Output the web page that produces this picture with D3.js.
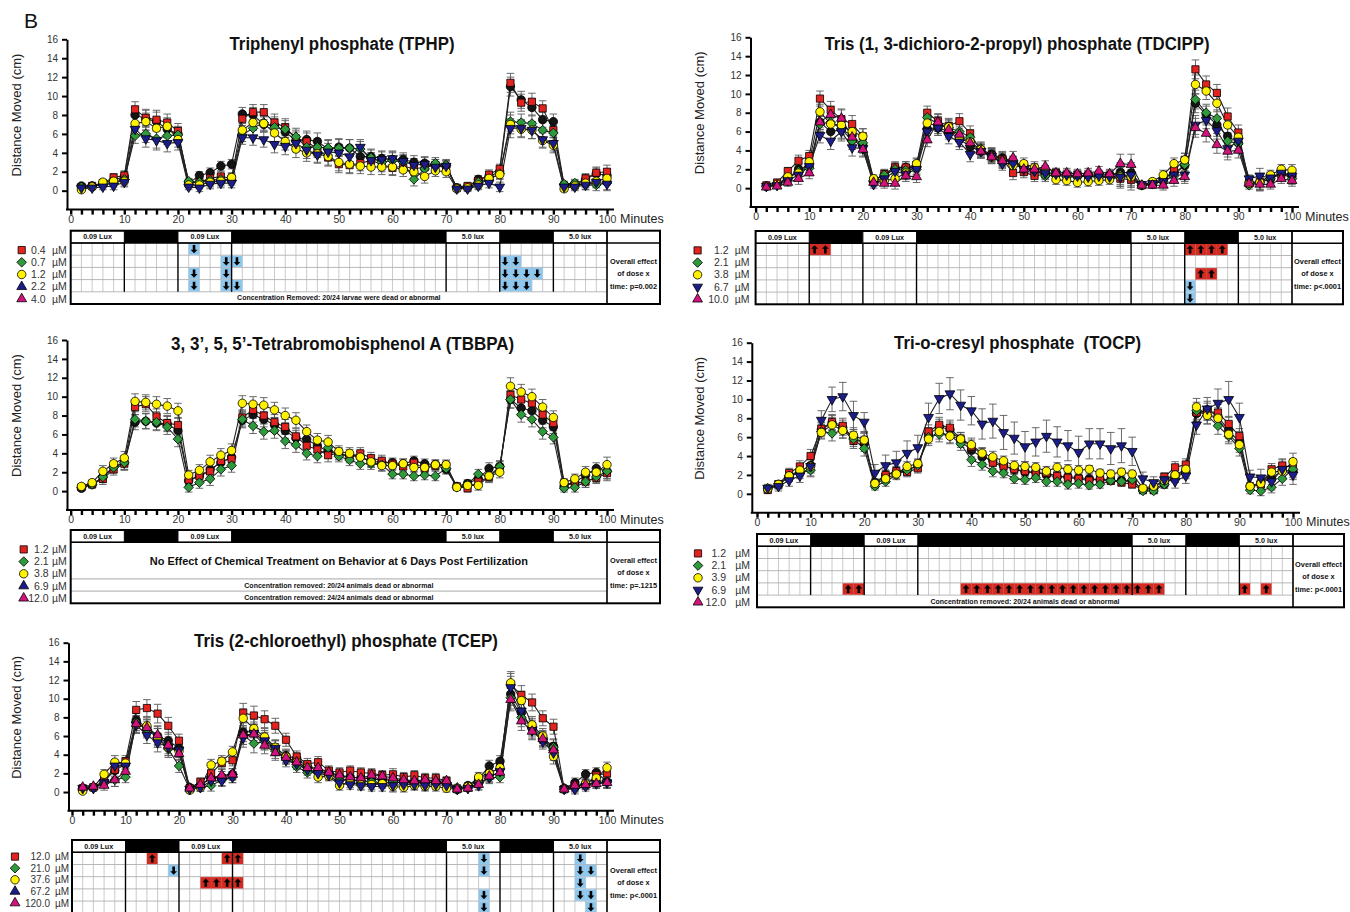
<!DOCTYPE html>
<html>
<head>
<meta charset="utf-8">
<script src="https://cdn.jsdelivr.net/npm/d3@7"></script>
<style>
  body { margin: 0; background: #fff; }
  svg { display: block; font-family: Arial, "Liberation Sans", sans-serif; }
</style>
</head>
<body>
<script>
// ---- shared categories / ticks ----
const minutes = [2,4,6,8,10,12,14,16,18,20,22,24,26,28,30,32,34,36,38,40,42,44,46,48,50,
                 52,54,56,58,60,62,64,66,68,70,72,74,76,78,80,82,84,86,88,90,92,94,96,98,100];
const xTickLabels = [0,10,20,30,40,50,60,70,80,90,100];
const yTickLabels = [0,2,4,6,8,10,12,14,16];
const phaseStarts = [0,10,20,30,70,80,90];
const phaseEnds   = [10,20,30,70,80,90,100];
const phaseLabels = ['0.09 Lux',null,'0.09 Lux',null,'5.0 lux',null,'5.0 lux'];

// ---- TPHP ----
const tphpDoses = ['0.4','0.7','1.2','2.2','4.0'];
const tphpControl = [0.5,0.5,0.8,1.1,1.5, 8.0,7.6,7.3,6.5,6.0, 0.8,1.6,1.9,2.6,2.8, 8.1,8.0,7.0,6.9,6.2, 5.3,5.4,5.2,4.4,4.6, 4.5,3.6,3.6,3.4,3.3, 3.3,3.0,2.9,2.7,2.6, 0.3,0.4,1.2,1.5,2.0, 11.0,9.6,8.8,7.5,7.3, 0.6,0.7,1.2,1.8,1.6];
const tphp04 = [0.4,0.5,0.8,1.4,1.6, 8.6,7.7,7.5,7.2,6.3, 0.8,0.9,1.3,1.5,1.3, 7.6,8.3,8.3,7.2,6.7, 5.5,5.2,4.4,3.5,2.8, 2.7,2.9,3.2,2.8,2.4, 2.6,2.3,2.5,2.7,2.5, 0.3,0.5,1.0,1.7,2.3, 11.4,9.3,9.4,8.7,6.4, 0.5,0.6,1.3,1.9,2.0];
const tphp07 = [0.4,0.5,0.6,0.8,1.2, 5.8,6.0,5.5,5.8,5.9, 1.0,0.9,1.1,1.2,1.1, 5.9,6.6,7.2,6.7,6.5, 5.7,4.6,4.6,4.5,4.5, 4.5,4.4,3.5,3.0,3.2, 3.0,1.2,2.3,2.9,2.7, 0.3,0.3,0.9,1.2,1.8, 7.3,7.2,7.1,6.4,6.1, 0.7,0.8,0.6,0.6,0.8];
const tphp12 = [0.1,0.4,0.9,1.0,1.0, 7.1,7.3,6.6,6.8,5.4, 0.6,0.6,0.9,1.0,1.4, 6.4,7.2,7.1,6.1,5.2, 4.4,4.0,3.9,3.6,3.0, 2.8,2.6,2.5,2.5,2.5, 2.2,2.0,1.5,2.1,2.0, 0.2,0.3,0.6,1.3,1.7, 7.0,6.5,6.4,5.3,4.8, 0.2,0.5,0.8,1.0,1.3];
const tphp22 = [0.3,0.3,0.4,0.5,0.9, 6.5,5.5,5.3,5.0,5.1, 0.4,0.3,0.7,0.8,0.8, 5.6,5.6,5.4,4.9,4.7, 5.0,4.3,3.8,4.1,4.0, 3.6,4.6,3.2,3.3,3.4, 3.1,2.7,2.8,2.5,2.6, 0.2,0.2,0.5,0.8,0.4, 6.6,6.6,6.4,5.4,5.0, 0.4,0.4,0.6,0.9,0.7];
const tphpErr = [0.2,0.2,0.3,0.4,0.5, 0.8,0.9,1.0,0.9,0.8, 0.3,0.4,0.5,0.5,0.5, 0.7,0.8,0.8,0.9,0.9, 0.9,0.9,0.9,0.9,0.9, 0.9,0.8,0.8,0.8,0.8, 0.7,0.7,0.7,0.6,0.6, 0.2,0.3,0.4,0.5,0.5, 1.0,0.9,0.9,0.8,0.8, 0.3,0.4,0.5,0.6,0.7];
const tphpArrows = [[0,22,'d'],[1,28,'d'],[1,30,'d'],[1,80,'d'],[1,82,'d'],[2,22,'d'],[2,28,'d'],[2,80,'d'],[2,82,'d'],[2,84,'d'],[2,86,'d'],[3,22,'d'],[3,28,'d'],[3,30,'d'],[3,80,'d'],[3,82,'d'],[3,84,'d']];

// ---- TDCIPP ----
const tdcippDoses = ['1.2','2.1','3.8','6.7','10.0'];
const tdcippControl = [0.2,0.4,1.0,2.0,2.3, 7.0,6.0,6.2,5.6,4.5, 0.8,1.4,2.1,2.2,2.2, 6.3,6.4,6.0,5.2,4.4, 3.9,3.6,3.2,2.7,2.2, 1.8,1.7,1.5,1.4,1.3, 1.4,1.4,1.4,1.7,1.6, 0.3,0.5,1.0,1.6,2.4, 9.0,7.8,6.7,5.5,4.8, 0.6,0.6,1.0,1.5,1.3];
const tdcipp12 = [0.3,0.6,1.8,2.9,3.4, 9.5,8.3,7.3,6.8,5.5, 0.8,1.5,2.2,2.2,2.5, 8.0,7.1,6.6,7.1,5.8, 4.0,3.5,3.1,1.6,1.7, 1.3,1.5,1.6,1.3,1.4, 1.3,1.2,1.3,1.0,0.9, 0.3,0.4,0.9,1.9,3.0, 12.6,11.0,10.1,7.6,5.9, 0.6,0.7,1.2,1.5,1.5];
const tdcipp21 = [0.2,0.4,1.0,1.8,2.1, 6.8,7.0,6.3,5.0,4.8, 0.8,1.4,2.0,1.9,2.0, 7.5,6.8,6.4,6.0,5.4, 4.2,3.5,3.0,2.6,2.3, 1.9,1.3,1.4,1.2,1.2, 1.3,1.1,1.2,1.4,1.2, 0.3,0.5,0.7,1.3,2.5, 9.4,8.0,7.4,5.0,4.7, 0.3,0.6,1.0,1.6,1.0];
const tdcipp38 = [0.2,0.4,1.2,1.6,2.8, 8.1,6.8,6.7,6.0,5.5, 1.0,0.8,1.0,1.6,2.6, 6.9,6.6,6.5,5.2,4.9, 4.1,3.3,2.8,2.4,2.6, 2.2,1.8,0.9,0.8,0.6, 0.7,0.8,0.9,1.2,1.2, 0.3,0.7,1.4,2.6,3.0, 11.0,10.3,9.0,6.7,5.4, 0.5,0.6,1.4,2.0,1.9];
const tdcipp67 = [0.2,0.3,0.8,1.4,2.3, 5.6,5.0,6.0,4.3,4.2, 0.4,1.0,1.8,1.5,2.0, 6.0,6.4,5.5,4.9,3.6, 3.9,3.4,2.6,2.6,2.0, 1.8,1.6,1.5,1.4,1.3, 1.2,1.3,1.2,1.2,1.4, 0.4,0.5,0.7,1.4,1.4, 6.7,7.2,6.1,4.2,5.0, 1.0,1.3,1.1,1.6,1.3];
const tdcipp100 = [0.1,0.2,0.6,1.0,1.6, 7.0,7.8,7.4,5.4,4.1, 0.6,0.5,0.5,1.3,1.2, 5.1,7.0,6.2,5.7,4.8, 3.9,3.3,2.9,3.2,2.0, 2.0,2.3,1.6,1.6,1.5, 1.6,1.8,1.5,2.6,2.5, 0.3,0.3,0.3,0.8,1.2, 6.4,5.8,4.6,3.9,4.0, 0.5,0.4,0.4,1.0,0.8];
const tdcippErr = [0.2,0.2,0.4,0.6,0.6, 0.8,0.9,1.0,0.9,0.8, 0.4,0.5,0.6,0.6,0.6, 0.7,0.8,0.8,0.8,0.8, 0.7,0.7,0.7,0.7,0.6, 0.6,0.6,0.5,0.5,0.5, 0.5,0.5,0.5,1.0,1.1, 0.2,0.3,0.5,0.6,0.7, 1.0,0.9,0.9,0.9,0.8, 0.4,0.8,0.5,0.5,0.6];
const tdcippArrows = [[0,10,'u'],[0,12,'u'],[0,80,'u'],[0,82,'u'],[0,84,'u'],[0,86,'u'],[2,82,'u'],[2,84,'u'],[3,80,'d'],[4,80,'d']];

// ---- TBBPA ----
const tbbpaDoses = ['1.2','2.1','3.8','6.9','12.0'];
const tbbpaControl = [0.3,0.7,1.5,2.6,3.0, 7.3,7.4,7.2,7.1,6.4, 1.1,1.6,2.3,3.0,3.6, 7.5,8.1,7.6,7.0,6.4, 5.6,5.5,4.8,4.2,3.9, 3.8,3.6,3.2,3.0,3.0, 2.9,3.2,2.9,2.8,2.3, 0.5,0.8,1.3,2.4,2.6, 9.7,8.8,8.5,7.5,6.8, 0.5,0.9,1.7,2.4,2.1];
const tbbpa12 = [0.4,0.7,1.3,2.3,2.9, 8.9,9.2,7.9,7.2,7.0, 1.2,1.6,2.1,3.2,3.4, 7.8,8.6,8.0,7.3,6.8, 5.8,4.8,4.4,3.8,4.0, 3.6,4.0,3.5,3.2,2.9, 2.6,3.0,2.4,2.7,2.7, 0.5,0.3,1.0,1.5,2.5, 10.2,9.7,9.3,8.1,7.2, 0.8,0.8,1.0,1.4,1.9];
const tbbpa21 = [0.4,0.7,1.5,2.5,3.0, 7.6,7.4,7.3,6.8,5.5, 0.4,0.9,1.3,2.3,2.7, 7.6,6.9,6.3,6.4,5.3, 4.9,4.0,3.7,4.6,3.7, 3.3,2.9,2.9,2.8,1.8, 1.8,1.6,1.7,1.6,2.4, 0.4,0.7,1.8,1.6,2.6, 9.7,8.1,7.6,6.3,5.7, 0.3,0.4,1.0,1.5,2.1];
const tbbpa38 = [0.5,0.9,2.1,2.9,3.5, 9.5,9.4,9.2,9.0,8.5, 1.7,2.2,3.1,3.8,4.3, 9.3,9.2,9.1,8.6,8.0, 7.5,6.3,5.4,5.2,4.2, 4.0,3.6,3.1,2.7,2.7, 2.9,2.5,2.5,2.8,2.8, 0.4,0.6,0.6,1.6,2.0, 11.1,10.5,10.0,8.9,7.8, 0.9,1.3,2.0,2.0,2.8];
const tbbpaErr = [0.2,0.3,0.6,0.6,0.7, 0.8,0.8,0.8,0.8,0.8, 0.5,0.6,0.7,0.7,0.7, 0.8,0.8,0.8,0.8,0.8, 0.8,0.7,0.7,0.7,0.6, 0.6,0.6,0.6,0.6,0.5, 0.5,0.5,0.5,0.5,0.5, 0.3,0.4,0.5,0.6,0.6, 0.9,0.8,0.8,0.8,0.7, 0.4,0.5,0.6,0.6,0.8];

// ---- TOCP ----
const tocpDoses = ['1.2','2.1','3.9','6.9','12.0'];
const tocpControl = [0.5,1.0,1.8,2.4,3.0, 6.8,7.5,7.0,6.0,5.3, 1.2,2.0,2.3,2.5,3.0, 6.3,7.1,6.8,5.6,4.6, 3.9,3.5,3.0,2.6,2.3, 2.3,2.0,1.8,1.8,1.7, 1.6,1.5,1.4,1.4,1.3, 0.5,0.6,1.0,2.0,2.4, 8.5,8.9,8.2,6.7,5.5, 0.8,1.2,1.6,2.5,2.4];
const tocp12 = [0.4,1.0,2.2,2.9,4.0, 6.9,7.6,7.2,5.6,5.6, 1.0,2.0,2.4,2.3,2.7, 6.6,7.3,7.0,5.8,5.0, 4.2,3.3,2.9,2.6,2.4, 2.2,2.2,1.9,1.7,1.6, 1.4,1.6,1.4,1.2,1.0, 0.4,0.4,1.8,2.8,3.1, 8.6,8.7,8.6,7.4,6.1, 0.7,1.0,2.6,3.0,2.8];
const tocp21 = [0.6,0.9,1.9,2.2,2.5, 6.6,6.4,6.7,5.8,4.8, 0.8,1.3,2.0,2.5,3.0, 6.0,6.3,6.2,5.3,3.6, 3.1,2.4,2.2,1.6,1.5, 1.7,1.3,1.3,1.0,1.1, 0.9,1.0,1.4,1.3,1.5, 0.3,0.3,1.0,1.8,2.2, 8.8,8.3,7.2,6.1,4.8, 0.4,0.3,0.7,1.6,2.6];
const tocp39 = [0.5,1.0,1.9,2.5,2.9, 6.5,7.3,6.7,6.2,5.7, 1.1,1.6,2.1,2.9,3.2, 5.8,6.6,6.1,5.8,5.2, 4.3,3.9,3.5,3.0,2.9, 2.8,2.4,2.8,2.6,2.5, 2.6,2.2,2.1,2.3,2.1, 0.6,0.8,1.4,2.0,2.6, 9.2,8.3,8.0,6.3,5.2, 0.8,1.1,2.3,2.4,3.4];
const tocp69 = [0.6,0.8,1.4,1.9,2.9, 7.8,10.0,10.3,8.3,7.6, 2.2,3.0,3.3,4.3,4.9, 8.1,10.1,10.6,9.4,8.8, 7.4,7.7,6.5,5.9,5.0, 5.5,6.1,5.5,5.1,4.4, 5.3,5.3,4.8,5.1,4.5, 1.6,1.2,1.5,1.3,1.9, 7.3,9.0,9.6,10.0,8.1, 1.8,1.7,1.3,2.6,2.0];
const tocpErr = [0.3,0.4,0.5,0.6,0.7, 0.7,0.8,0.8,0.8,0.8, 0.4,0.5,0.5,0.5,0.5, 0.7,0.8,0.8,0.7,0.7, 0.6,0.6,0.5,0.5,0.5, 0.5,0.5,0.5,0.5,0.5, 0.4,0.4,0.4,0.4,0.4, 0.3,0.3,0.4,0.6,0.6, 0.9,0.9,0.9,0.8,0.8, 0.4,0.5,0.6,0.7,0.9];
const tocp69Err = [0.4,0.5,0.6,0.7,1.0, 1.0,1.3,1.5,1.5,1.0, 0.9,1.1,1.2,1.3,1.3, 1.5,1.6,1.7,1.6,1.5, 1.6,1.8,1.8,1.7,1.6, 1.5,1.7,1.6,1.6,1.7, 1.6,1.6,1.7,1.8,1.5, 0.7,0.6,0.7,0.7,0.8, 1.0,1.2,1.5,1.9,1.5, 0.7,0.9,0.9,1.0,1.0];
const tocpArrowMinutes = [16,18,38,40,42,44,46,48,50,52,54,56,58,60,62,64,66,68,70,72,74,90,94];

// ---- TCEP ----
const tcepDoses = ['12.0','21.0','37.6','67.2','120.0'];
const tcepControl = [0.4,0.5,1.2,2.3,3.0, 7.7,6.9,6.0,5.5,4.7, 0.5,0.7,1.5,1.6,1.9, 6.4,6.5,5.7,4.7,3.9, 3.6,2.7,2.3,2.0,1.7, 1.6,1.5,1.4,1.3,1.3, 1.2,1.1,1.1,1.0,0.9, 0.3,0.7,1.4,2.8,3.3, 10.5,8.5,6.8,5.6,4.9, 0.4,1.0,1.9,2.1,1.1];
const tcep120 = [0.4,0.5,1.2,2.4,3.3, 8.8,9.0,8.4,7.1,5.5, 0.4,1.1,2.0,3.1,3.4, 8.5,8.2,7.8,7.1,5.6, 3.8,3.0,3.2,2.3,2.1, 2.3,2.1,2.0,1.8,1.9, 1.6,1.8,1.5,1.5,1.2, 0.3,0.5,1.3,2.0,2.6, 11.5,10.4,9.6,7.9,7.0, 0.3,0.7,0.8,1.8,2.0];
const tcep210 = [0.4,0.5,1.0,1.3,1.6, 7.5,6.7,5.8,4.6,2.8, 0.3,0.5,0.7,1.3,1.6, 6.1,5.2,5.4,4.4,3.7, 2.7,2.1,2.1,2.0,1.3, 1.3,1.2,1.1,1.0,1.1, 1.0,1.0,1.0,1.1,1.0, 0.5,0.4,1.0,1.5,1.6, 10.1,8.0,7.0,5.8,4.8, 0.3,0.6,0.8,1.0,1.1];
const tcep376 = [0.1,0.5,1.9,3.2,3.1, 7.2,7.1,5.8,4.8,4.4, 0.2,0.5,2.9,3.3,4.3, 7.9,6.8,5.9,4.8,3.8, 3.2,2.6,1.6,1.7,0.7, 1.0,0.8,0.8,0.9,0.6, 0.5,0.7,0.6,0.6,0.4, 0.3,0.6,1.6,2.0,2.6, 11.7,9.8,7.2,6.0,3.8, 0.3,0.5,0.9,1.5,2.6];
const tcep672 = [0.4,0.4,1.0,2.8,2.8, 7.2,6.1,5.3,4.8,4.5, 0.3,0.5,1.2,1.2,1.6, 5.8,6.3,5.5,4.7,3.4, 3.0,2.4,2.0,1.8,1.0, 0.8,0.7,0.6,0.6,0.7, 0.8,0.8,0.7,0.8,0.7, 0.3,0.4,0.7,1.6,2.2, 11.2,8.7,6.6,5.4,4.2, 0.3,0.3,0.6,0.9,1.0];
const tcep1200 = [0.5,0.6,0.7,1.3,2.2, 7.3,6.9,6.1,5.0,4.1, 0.4,0.8,1.5,1.8,1.9, 6.1,6.2,5.0,4.2,3.7, 3.2,2.6,2.6,2.1,1.8, 1.6,1.5,1.8,1.7,1.5, 1.3,1.2,1.3,1.2,1.2, 0.3,0.4,0.8,1.7,2.1, 9.9,7.6,6.5,5.7,4.5, 0.3,0.7,0.8,0.9,1.0];
const tcepErr = [0.2,0.3,0.5,0.7,0.6, 0.9,0.9,1.0,0.9,0.7, 0.3,0.4,0.6,0.6,0.6, 1.0,1.0,0.9,0.8,0.7, 0.6,0.6,0.6,0.5,0.5, 0.5,0.5,0.5,0.5,0.6, 0.5,0.5,0.5,0.5,0.4, 0.3,0.3,0.5,0.6,0.6, 1.2,1.0,0.9,0.8,0.8, 0.3,0.5,0.5,0.5,0.6];
const tcepArrows = [[0,14,'u'],[0,28,'u'],[0,30,'u'],[0,76,'d'],[0,94,'d'],[1,18,'d'],[1,76,'d'],[1,94,'d'],[1,96,'d'],[2,24,'u'],[2,26,'u'],[2,28,'u'],[2,30,'u'],[2,94,'d'],[3,76,'d'],[3,94,'d'],[3,96,'d'],[4,76,'d'],[4,96,'d']];

// ---- styling ----
const W = 1350, H = 912;
const fills = { control: '#141414', red: '#e2231f', green: '#2f9a3c', yellow: '#fff200', navy: '#1b1d8a', magenta: '#d3137c' };
const doseStyles = [
  { shape: 'square', fill: fills.red },
  { shape: 'diamond', fill: fills.green },
  { shape: 'circle', fill: fills.yellow },
  { shape: 'triDown', fill: fills.navy },
  { shape: 'triUp', fill: fills.magenta }
];
const HDR_H = 12.3, ROW_H = 12.2;

const svg = d3.select('body').append('svg').attr('width', W).attr('height', H);

svg.append('text').attr('x', 24).attr('y', 28).attr('font-size', 21).attr('fill', '#111').text('B');

function markerPath(shape) {
  if (shape === 'square') return d3.symbol(d3.symbolSquare, 52)();
  if (shape === 'diamond') return 'M0,-4.8L4.8,0L0,4.8L-4.8,0Z';
  if (shape === 'circle') return d3.symbol(d3.symbolCircle, 56)();
  return d3.symbol(d3.symbolTriangle, 42)();
}

function drawMarker(g, shape, fill, cx, cy) {
  g.append('path')
    .attr('d', markerPath(shape))
    .attr('transform', `translate(${cx},${cy})` + (shape === 'triDown' ? ' rotate(180)' : ''))
    .attr('fill', fill)
    .attr('stroke', '#000')
    .attr('stroke-width', 0.8);
}

// up arrow glyph, rotated for the down ones
const arrowUp = 'M0,-4.2L3.4,-0.6L1.3,-0.6L1.3,4L-1.3,4L-1.3,-0.6L-3.4,-0.6Z';

function drawPanel(cfg) {
  const g = svg.append('g');
  const x = d3.scaleLinear().domain([0, 100]).range([cfg.x0, cfg.x100]);
  const y = d3.scaleLinear().domain([-2, 16]).range([cfg.axisY, cfg.y16]);

  // title
  g.append('text')
    .attr('x', cfg.titleX).attr('y', cfg.titleY)
    .attr('text-anchor', 'middle')
    .attr('font-size', 18).attr('font-weight', 'bold').attr('fill', '#111')
    .attr('textLength', cfg.titleW).attr('lengthAdjust', 'spacingAndGlyphs')
    .style('white-space', 'pre')
    .text(cfg.title);

  // y axis
  const yAxis = g.append('g')
    .attr('transform', `translate(${cfg.yAxisX},0)`)
    .call(d3.axisLeft(y).tickValues(yTickLabels).tickSize(5).tickSizeOuter(0).tickPadding(4));
  yAxis.select('.domain').attr('stroke', '#000').attr('stroke-width', 2);
  yAxis.selectAll('.tick line').attr('stroke', '#000').attr('stroke-width', 2);
  yAxis.selectAll('.tick text').attr('font-size', 10).attr('fill', '#333').attr('font-family', 'Arial, "Liberation Sans", sans-serif');

  g.append('text')
    .attr('transform', `translate(${cfg.ylabX},${(cfg.y16 + y(0)) / 2}) rotate(-90)`)
    .attr('text-anchor', 'middle')
    .attr('font-size', 13).attr('fill', '#222')
    .text('Distance Moved (cm)');

  // x axis
  const xAxis = g.append('g')
    .attr('transform', `translate(0,${cfg.axisY})`)
    .call(d3.axisBottom(x).tickValues(d3.range(0, 101, 2)).tickSize(5).tickPadding(1)
      .tickFormat(d => (xTickLabels.includes(d) ? d : '')));
  xAxis.select('.domain').remove();
  xAxis.selectAll('.tick line').attr('stroke', '#000').attr('stroke-width', 2.4);
  xAxis.selectAll('.tick text').attr('font-size', 10.5).attr('fill', '#333').attr('font-family', 'Arial, "Liberation Sans", sans-serif');
  g.append('line')
    .attr('x1', cfg.yAxisX - 1).attr('x2', cfg.x100 + 7)
    .attr('y1', cfg.axisY).attr('y2', cfg.axisY)
    .attr('stroke', '#000').attr('stroke-width', 2);
  g.append('text')
    .attr('x', cfg.x100 + 13).attr('y', cfg.axisY + 13.5)
    .attr('font-size', 12.5).attr('fill', '#222')
    .text('Minutes');

  // series: error bars, lines, markers
  const line = d3.line().x((d, i) => x(minutes[i])).y(d => y(d));
  cfg.series.forEach(s => {
    const err = s.err || cfg.err;
    const eb = g.append('g').attr('stroke', '#5a5a5a').attr('stroke-width', 0.9);
    s.values.forEach((v, i) => {
      const cx = x(minutes[i]);
      const top = y(v + err[i]), bot = y(Math.max(v - err[i], -0.3));
      eb.append('line').attr('x1', cx).attr('x2', cx).attr('y1', top).attr('y2', bot);
      eb.append('line').attr('x1', cx - 3.8).attr('x2', cx + 3.8).attr('y1', top).attr('y2', top);
      eb.append('line').attr('x1', cx - 3.8).attr('x2', cx + 3.8).attr('y1', bot).attr('y2', bot);
    });
  });
  cfg.series.forEach(s => {
    g.append('path').datum(s.values)
      .attr('d', line).attr('fill', 'none')
      .attr('stroke', '#222').attr('stroke-width', 1.1);
  });
  cfg.series.forEach(s => {
    const mg = g.append('g');
    s.values.forEach((v, i) => drawMarker(mg, s.shape, s.fill, x(minutes[i]), y(v)));
  });

  // ---- table ----
  const left = x(0), mid = x(100), right = cfg.tableRight;
  const top = cfg.tableTop, bodyTop = top + HDR_H, bottom = bodyTop + ROW_H * 5;
  const tg = g.append('g');
  tg.append('rect').attr('x', left).attr('y', top).attr('width', right - left).attr('height', bottom - top)
    .attr('fill', '#fff');

  // grid region
  const gridBottom = bodyTop + ROW_H * cfg.gridRows;
  if (cfg.gridRows > 0) {
    d3.range(2, 100, 2).filter(m => !phaseStarts.includes(m)).forEach(m => {
      tg.append('line').attr('x1', x(m)).attr('x2', x(m)).attr('y1', bodyTop).attr('y2', gridBottom)
        .attr('stroke', '#bdbdbd').attr('stroke-width', 0.8);
    });
    for (let r = 1; r <= cfg.gridRows; r++) {
      tg.append('line').attr('x1', left).attr('x2', mid)
        .attr('y1', bodyTop + ROW_H * r).attr('y2', bodyTop + ROW_H * r)
        .attr('stroke', '#b0b0b0').attr('stroke-width', 0.9);
    }
    cfg.arrows.forEach(([row, m, dir]) => {
      const ry = bodyTop + ROW_H * row;
      tg.append('rect').attr('x', x(m)).attr('y', ry + 0.4)
        .attr('width', x(m + 2) - x(m)).attr('height', ROW_H - 0.8)
        .attr('fill', dir === 'u' ? '#d32b22' : '#8ec7ee');
      tg.append('path').attr('d', arrowUp)
        .attr('transform', `translate(${(x(m) + x(m + 2)) / 2},${ry + ROW_H / 2})` + (dir === 'd' ? ' rotate(180)' : ''))
        .attr('fill', '#000');
    });
    phaseStarts.slice(1).forEach(m => {
      tg.append('line').attr('x1', x(m)).attr('x2', x(m)).attr('y1', bodyTop).attr('y2', gridBottom)
        .attr('stroke', '#000').attr('stroke-width', 1.4);
    });
  }

  // extra row lines / notes
  (cfg.rowLines || []).forEach(r => {
    tg.append('line').attr('x1', left).attr('x2', mid)
      .attr('y1', bodyTop + ROW_H * r).attr('y2', bodyTop + ROW_H * r)
      .attr('stroke', '#a8a8a8').attr('stroke-width', 1);
  });
  (cfg.notes || []).forEach(n => {
    tg.append('text')
      .attr('x', (left + mid) / 2).attr('y', bodyTop + ROW_H * (n.row + 0.5) + 2.5)
      .attr('text-anchor', 'middle').attr('font-size', 7).attr('font-weight', 'bold').attr('fill', '#111')
      .text(n.text);
  });
  if (cfg.bigText) {
    tg.append('text')
      .attr('x', (left + mid) / 2).attr('y', bodyTop + ROW_H * 1.5 + 4)
      .attr('text-anchor', 'middle').attr('font-size', 11.5).attr('font-weight', 'bold').attr('fill', '#111')
      .attr('textLength', 378).attr('lengthAdjust', 'spacingAndGlyphs')
      .text(cfg.bigText);
  }

  // header
  phaseStarts.forEach((s, i) => {
    const e = phaseEnds[i];
    if (phaseLabels[i]) {
      tg.append('rect').attr('x', x(s)).attr('y', top).attr('width', x(e) - x(s)).attr('height', HDR_H)
        .attr('fill', '#fff').attr('stroke', '#000').attr('stroke-width', 1);
      tg.append('text').attr('x', (x(s) + x(e)) / 2).attr('y', top + HDR_H / 2 + 2.5)
        .attr('text-anchor', 'middle').attr('font-size', 7.2).attr('font-weight', 'bold').attr('fill', '#111')
        .text(phaseLabels[i]);
    } else {
      tg.append('rect').attr('x', x(s)).attr('y', top).attr('width', x(e) - x(s)).attr('height', HDR_H)
        .attr('fill', '#000');
    }
  });
  tg.append('line').attr('x1', left).attr('x2', right).attr('y1', bodyTop).attr('y2', bodyTop)
    .attr('stroke', '#000').attr('stroke-width', 1.5);
  tg.append('line').attr('x1', mid).attr('x2', mid).attr('y1', top).attr('y2', bottom)
    .attr('stroke', '#000').attr('stroke-width', 1.6);
  tg.append('rect').attr('x', left).attr('y', top).attr('width', right - left).attr('height', bottom - top)
    .attr('fill', 'none').attr('stroke', '#000').attr('stroke-width', 2);

  // overall effect
  const effLines = ['Overall effect', 'of dose x', cfg.pText];
  const effMid = (bodyTop + bottom) / 2;
  effLines.forEach((t, i) => {
    tg.append('text').attr('x', (mid + right) / 2).attr('y', effMid + (i - 1) * 12.5 + 2.5)
      .attr('text-anchor', 'middle').attr('font-size', 7.4).attr('font-weight', 'bold').attr('fill', '#111')
      .text(t);
  });

  // legend
  const step = cfg.legendStep || ROW_H;
  const fs = cfg.legendFont || 10.5;
  cfg.doses.forEach((d, i) => {
    const ly = bodyTop + step * (i + 0.5) + (cfg.legendShift || 1);
    drawMarker(g, cfg.legendShapes[i], doseStyles[i].fill, left - cfg.legend[0], ly);
    g.append('text').attr('x', left - cfg.legend[1]).attr('y', ly + 3.6)
      .attr('text-anchor', 'end').attr('font-size', fs).attr('fill', '#333').text(d);
    g.append('text').attr('x', left - cfg.legend[2]).attr('y', ly + 3.6)
      .attr('text-anchor', 'end').attr('font-size', fs).attr('fill', '#333').text('\u00b5M');
  });
}

function seriesOf(control, doseArrays, extra) {
  const out = [{ values: control, shape: 'circle', fill: fills.control }];
  doseArrays.forEach((vals, i) => {
    if (vals) out.push(Object.assign({ values: vals }, doseStyles[i], (extra && extra[i]) || {}));
  });
  return out;
}

drawPanel({
  title: 'Triphenyl phosphate (TPHP)', titleX: 342, titleY: 50, titleW: 225,
  x0: 70.7, x100: 607, yAxisX: 67, y16: 39.3, axisY: 209.6, ylabX: 20.5,
  series: seriesOf(tphpControl, [tphp04, tphp07, tphp12, tphp22, null]),
  err: tphpErr,
  tableTop: 230.7, tableRight: 660, gridRows: 4, arrows: tphpArrows,
  notes: [{ row: 4, text: 'Concentration Removed: 20/24 larvae were dead or abnormal' }],
  pText: 'time: p=0.002',
  doses: tphpDoses, legendShapes: ['square', 'diamond', 'circle', 'triUp', 'triUp'], legend: [49, 25, 4]
});

drawPanel({
  title: 'Tris (1, 3-dichioro-2-propyl) phosphate (TDCIPP)', titleX: 1017, titleY: 49.5, titleW: 385,
  x0: 755.6, x100: 1292, yAxisX: 750.5, y16: 37.3, axisY: 207, ylabX: 704,
  series: seriesOf(tdcippControl, [tdcipp12, tdcipp21, tdcipp38, tdcipp67, tdcipp100]),
  err: tdcippErr,
  tableTop: 231, tableRight: 1343, gridRows: 5, arrows: tdcippArrows,
  pText: 'time: p<.0001',
  doses: tdcippDoses, legendShapes: ['square', 'diamond', 'circle', 'triDown', 'triUp'], legend: [58, 27, 6]
});

drawPanel({
  title: '3, 3\u2019, 5, 5\u2019-Tetrabromobisphenol A (TBBPA)', titleX: 342.6, titleY: 349.5, titleW: 343,
  x0: 70.7, x100: 607, yAxisX: 67, y16: 340, axisY: 510, ylabX: 20.5,
  series: seriesOf(tbbpaControl, [tbbpa12, tbbpa21, tbbpa38, null, null]),
  err: tbbpaErr,
  tableTop: 530, tableRight: 660, gridRows: 0, arrows: [],
  rowLines: [3, 4],
  bigText: 'No Effect of Chemical Treatment on Behavior at 6 Days Post Fertilization',
  notes: [{ row: 3, text: 'Concentration removed: 20/24 animals dead or abnormal' },
          { row: 4, text: 'Concentration removed: 24/24 animals dead or abnormal' }],
  pText: 'time: p=.1215',
  doses: tbbpaDoses, legendShapes: ['square', 'diamond', 'circle', 'triUp', 'triUp'], legend: [47, 22, 4]
});

drawPanel({
  title: 'Tri-o-cresyl phosphate  (TOCP)', titleX: 1017.6, titleY: 349, titleW: 247,
  x0: 757, x100: 1293, yAxisX: 751.8, y16: 342.7, axisY: 512.7, ylabX: 704,
  series: seriesOf(tocpControl, [tocp12, tocp21, tocp39, tocp69, null], { 3: { err: tocp69Err } }),
  err: tocpErr,
  tableTop: 534, tableRight: 1344, gridRows: 4,
  arrows: tocpArrowMinutes.map(m => [3, m, 'u']),
  notes: [{ row: 4, text: 'Concentration removed: 20/24 animals dead or abnormal' }],
  pText: 'time: p<.0001',
  doses: tocpDoses, legendShapes: ['square', 'diamond', 'circle', 'triDown', 'triUp'], legend: [59, 31, 7]
});

drawPanel({
  title: 'Tris (2-chloroethyl) phosphate (TCEP)', titleX: 346, titleY: 646.7, titleW: 304,
  x0: 72, x100: 607, yAxisX: 68.5, y16: 642.7, axisY: 810.7, ylabX: 20.5,
  series: seriesOf(tcepControl, [tcep120, tcep210, tcep376, tcep672, tcep1200]),
  err: tcepErr,
  tableTop: 840, tableRight: 660, gridRows: 5, arrows: tcepArrows,
  pText: 'time: p<.0001',
  doses: tcepDoses, legendShapes: ['square', 'diamond', 'circle', 'triUp', 'triUp'], legend: [57, 22, 3],
  legendStep: 11.6, legendShift: -1.5, legendFont: 10
});
</script>
</body>
</html>
